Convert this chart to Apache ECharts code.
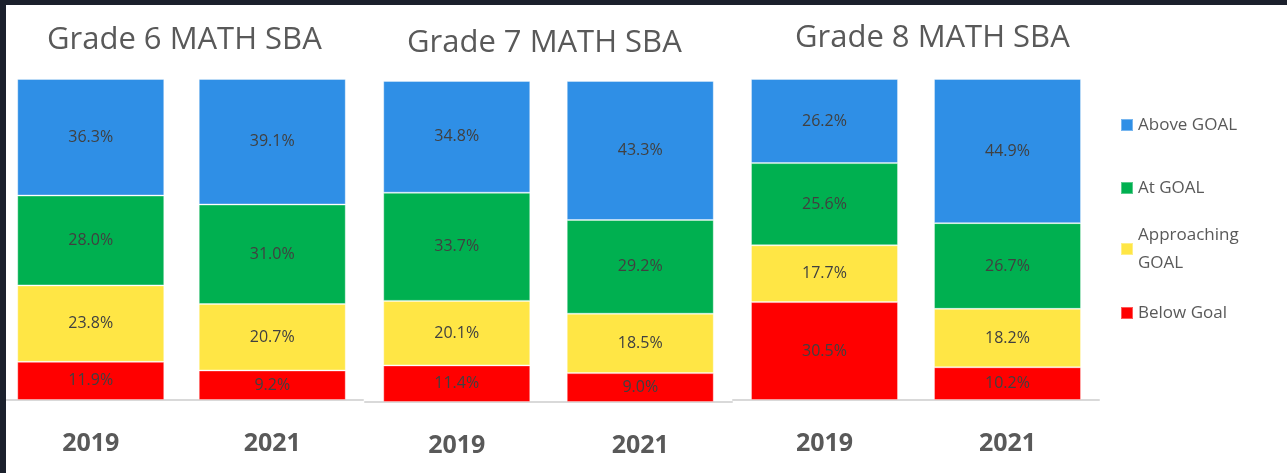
<!DOCTYPE html>
<html>
<head>
<meta charset="utf-8">
<script src="https://cdn.jsdelivr.net/npm/echarts@6/dist/echarts.min.js"></script>
<style>
  html, body { margin: 0; padding: 0; background: #fff; }
  #chart { position: absolute; left: 0; top: 0; width: 1287px; height: 473px; }
  .frame { position: absolute; background: #1b202c; pointer-events: none; }
</style>
</head>
<body>
<div id="chart"></div>
<div class="frame" style="left:0;top:0;width:1287px;height:5px;"></div>
<div class="frame" style="left:0;top:0;width:6px;height:473px;"></div>
<script>
(() => {

    // 数据
    var years = ['2019', '2021'];
    var panelTitles = ['Grade 6 MATH SBA', 'Grade 7 MATH SBA', 'Grade 8 MATH SBA'];
    var levelNames = ['Below Goal', 'Approaching GOAL', 'At GOAL', 'Above GOAL'];

    // 每个年级 [2019, 2021]
    var belowGoal = [[11.9, 9.2], [11.4, 9.0], [30.5, 10.2]];
    var approachingGoal = [[23.8, 20.7], [20.1, 18.5], [17.7, 18.2]];
    var atGoal = [[28.0, 31.0], [33.7, 29.2], [25.6, 26.7]];
    var aboveGoal = [[36.3, 39.1], [34.8, 43.3], [26.2, 44.9]];

    var levelData = [belowGoal, approachingGoal, atGoal, aboveGoal];
    var levelColors = ['#ff0000', '#ffe645', '#00b050', '#2f8fe6'];

    // 布局
    var font = '"Open Sans", "Noto Sans", sans-serif';
    var grids = [
        { left: -3, top: 79, width: 366, height: 321 },
        { left: 365, top: 81, width: 367, height: 321 },
        { left: 733, top: 79, width: 366, height: 321 }
    ];
    var titleLeft = [47, 407, 795];
    var titleTop = [25, 28, 23];

    var xAxis = grids.map((g, i) => ({
        type: 'category',
        gridIndex: i,
        data: years,
        axisTick: { show: false },
        axisLine: { lineStyle: { color: '#d9d9d9', width: 2 } },
        axisLabel: {
            margin: 31,
            fontSize: 25,
            fontWeight: 'bold',
            color: '#595959',
            fontFamily: font
        }
    }));

    var yAxis = grids.map((g, i) => ({
        type: 'value',
        gridIndex: i,
        min: 0,
        max: 100,
        show: false
    }));

    var series = [];
    grids.forEach((g, gi) => {
        levelNames.forEach((name, li) => {
            series.push({
                type: 'bar',
                name: name,
                xAxisIndex: gi,
                yAxisIndex: gi,
                stack: 'grade' + gi,
                barWidth: 147,
                data: levelData[li][gi],
                itemStyle: {
                    color: levelColors[li],
                    borderColor: 'rgba(255,255,255,0.35)',
                    borderWidth: 1
                },
                label: {
                    show: true,
                    position: 'inside',
                    color: '#404040',
                    fontSize: 16,
                    fontFamily: font,
                    formatter: p => p.value.toFixed(1) + '%'
                },
                emphasis: { disabled: true }
            });
        });
    });

    // 图例 (每项单独放置)
    var legendItems = [
        { name: 'Above GOAL', top: 111 },
        { name: 'At GOAL', top: 174 },
        { name: 'Approaching GOAL', top: 207, text: 'Approaching\nGOAL', padTop: 28 },
        { name: 'Below Goal', top: 299 }
    ];
    var legend = legendItems.map(item => ({
        data: [item.name],
        left: 1120,
        top: item.top,
        padding: 0,
        orient: 'vertical',
        icon: 'rect',
        itemWidth: 12,
        itemHeight: 12,
        selectedMode: false,
        formatter: () => item.text || item.name,
        textStyle: {
            color: '#595959',
            fontSize: 17,
            fontFamily: font,
            lineHeight: 28,
            padding: [item.padTop || 0, 0, 0, 0]
        }
    }));

    var option = {
        backgroundColor: '#fff',
        animation: false,
        title: panelTitles.map((t, i) => ({
            text: t,
            left: titleLeft[i],
            top: titleTop[i],
            padding: 0,
            textStyle: {
                color: '#595959',
                fontSize: 31,
                fontWeight: 'normal',
                fontFamily: font
            }
        })),
        legend: legend,
        grid: grids,
        xAxis: xAxis,
        yAxis: yAxis,
        series: series
    };

    var myChart = echarts.init(document.getElementById('chart'));
    myChart.setOption(option);
})();
</script>
</body>
</html>
